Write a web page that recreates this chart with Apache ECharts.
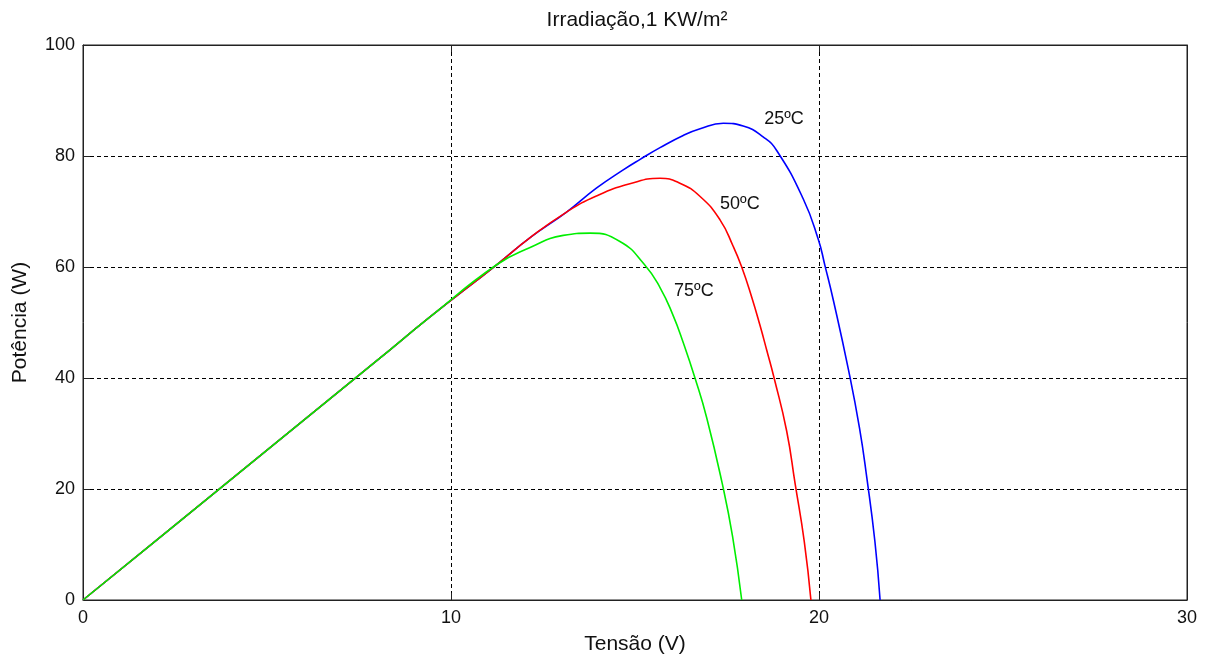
<!DOCTYPE html>
<html>
<head>
<meta charset="utf-8">
<script src="https://cdn.jsdelivr.net/npm/echarts@6/dist/echarts.min.js"></script>
<style>
  html, body { margin: 0; padding: 0; background: #fff; }
  #chart { width: 1205px; height: 664px; }
</style>
</head>
<body>
<div id="chart"></div>
<script>
// curvas P x V, irradiação 1 kW/m2
var v25 = [0, 2, 4, 6, 8, 9.43, 11.24, 12.15, 13.14, 13.95, 14.68, 15.14, 15.68, 16.31, 16.77, 17.4, 17.94, 18.49, 18.85, 19.57, 19.98, 20.16, 20.39, 20.8, 21.1, 21.3, 21.52, 21.66];
var p25 = [0, 10.8, 21.6, 32.4, 43.2, 51, 60.4, 65.3, 69.9, 74.2, 77.5, 79.4, 81.5, 83.7, 84.9, 85.9, 85.4, 83.4, 81, 72.3, 65, 60.3, 54, 41.5, 31, 22, 10.5, 0];

var v50 = [0, 2, 4, 6, 8, 9.43, 11.24, 12.15, 13.14, 13.95, 14.86, 15.68, 16.22, 16.77, 17.31, 17.67, 17.9, 18.17, 18.4, 18.58, 18.78, 19.12, 19.35, 19.6, 19.78];
var p50 = [0, 10.8, 21.6, 32.4, 43.2, 51, 60.4, 65.3, 69.9, 72.8, 75, 76, 75.1, 72.7, 68.5, 63.7, 60, 54.6, 49.4, 45, 40, 30.5, 21, 10.5, 0];

var v75 = [0, 2, 4, 6, 8, 9.43, 11.24, 12.15, 13.05, 13.78, 14.59, 15.25, 15.68, 16.04, 16.31, 16.63, 16.95, 17.37, 17.65, 17.9];
var p75 = [0, 10.8, 21.6, 32.4, 43.2, 51, 60.4, 63.5, 65.7, 66.1, 64.6, 60.5, 56.3, 51.2, 46.4, 40, 32.8, 21, 11.5, 0];

var curveNames = ["25ºC", "50ºC", "75ºC"];
var labelPos = [[19.05, 86.6], [17.85, 71.4], [16.6, 55.6]];

function pairs(vs, ps) {
  return vs.map(function (v, i) { return [v, ps[i]]; });
}

var font = "Liberation Sans, Arial, sans-serif";
var chart = echarts.init(document.getElementById("chart"));

var axisCommon = {
  min: 0,
  axisLine: { show: true, onZero: false, lineStyle: { color: "#222", width: 1 } },
  axisTick: { show: true, inside: true, length: 7, lineStyle: { color: "#222" } },
  splitLine: { show: false }
};
var dashed = { show: true, lineStyle: { color: "#000", type: [4, 3], width: 1 } };

function lineSeries(name, data, color) {
  return {
    name: name,
    type: "line",
    data: data,
    showSymbol: false,
    smooth: 0.5,
    lineStyle: { color: color, width: 1.6 },
    z: 3
  };
}

chart.setOption({
  animation: false,
  backgroundColor: "#fff",
  title: {
    text: "Irradiação,1 KW/m²",
    left: 632,
    textAlign: "center",
    top: 5,
    textStyle: { fontFamily: font, fontSize: 21, fontWeight: "normal", color: "#111" }
  },
  grid: {
    left: 83, right: 18, top: 45, bottom: 64,
    show: true, borderColor: "#222", borderWidth: 1
  },
  xAxis: [
    Object.assign({}, axisCommon, {
      type: "value", max: 30, interval: 10, position: "bottom",
      name: "Tensão (V)", nameLocation: "middle", nameGap: 34,
      nameTextStyle: { fontFamily: font, fontSize: 21, color: "#111" },
      axisLabel: { fontFamily: font, fontSize: 18, color: "#111", margin: 9 },
      splitLine: dashed
    }),
    Object.assign({}, axisCommon, {
      type: "value", max: 30, interval: 10, position: "top",
      axisLabel: { show: false }
    })
  ],
  yAxis: [
    Object.assign({}, axisCommon, {
      type: "value", max: 100, interval: 20, position: "left",
      name: "Potência (W)", nameLocation: "middle", nameGap: 52,
      nameTextStyle: { fontFamily: font, fontSize: 21, color: "#111" },
      axisLabel: { fontFamily: font, fontSize: 18, color: "#111", margin: 8 },
      splitLine: dashed
    }),
    Object.assign({}, axisCommon, {
      type: "value", max: 100, interval: 20, position: "right",
      axisLabel: { show: false }
    })
  ],
  series: [
    lineSeries(curveNames[0], pairs(v25, p25), "#0000ff"),
    lineSeries(curveNames[1], pairs(v50, p50), "#ff0000"),
    lineSeries(curveNames[2], pairs(v75, p75), "#00ee00"),
    {
      type: "scatter",
      symbolSize: 0,
      itemStyle: { opacity: 1 },
      data: labelPos.map(function (p, i) { return { value: p, name: curveNames[i] }; }),
      label: {
        show: true, position: "inside", formatter: "{b}",
        fontFamily: font, fontSize: 18, color: "#111", opacity: 1
      },
      z: 4
    }
  ]
});
</script>
</body>
</html>
